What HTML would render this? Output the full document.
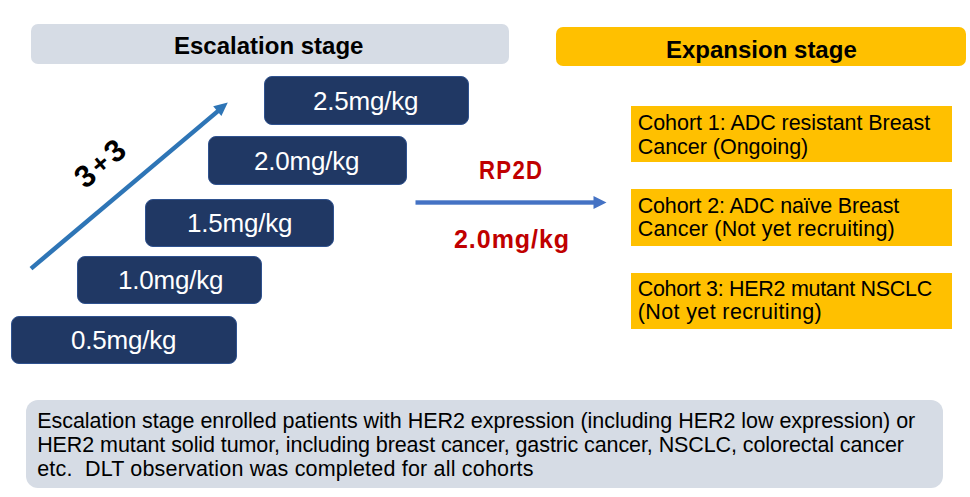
<!DOCTYPE html>
<html>
<head>
<meta charset="utf-8">
<style>
html,body{margin:0;padding:0;background:#fff;}
body{width:970px;height:497px;position:relative;overflow:hidden;font-family:"Liberation Sans",sans-serif;}
.a{position:absolute;box-sizing:border-box;}
.t{position:absolute;white-space:pre;line-height:1;}
.hdr{background:#D6DCE5;border-radius:7px;}
.org{background:#FFC000;}
.blue{background:#203864;border:1px solid #2F528F;border-radius:8px;}
.lbl{color:#fff;font-size:26px;letter-spacing:-0.2px;}
.coh{font-size:21.5px;color:#000;}
.note{font-size:21.5px;color:#000;}
.b{font-weight:bold;}
.red{color:#C00000;font-weight:bold;font-size:25px;}
</style>
</head>
<body>
<!-- headers -->
<div class="a hdr" style="left:31px;top:24px;width:478px;height:40px;"></div>
<div class="t b" style="left:174px;top:34px;font-size:24px;">Escalation stage</div>
<div class="a org" style="left:556px;top:27px;width:410px;height:39px;border-radius:7px;"></div>
<div class="t b" style="left:666px;top:38px;font-size:24px;">Expansion stage</div>

<!-- dose boxes -->
<div class="a blue" style="left:264px;top:76px;width:205px;height:49px;"></div>
<div class="t lbl" style="left:313px;top:88px;">2.5mg/kg</div>
<div class="a blue" style="left:208px;top:136px;width:199px;height:49px;"></div>
<div class="t lbl" style="left:254px;top:148px;">2.0mg/kg</div>
<div class="a blue" style="left:145px;top:199px;width:189px;height:48px;"></div>
<div class="t lbl" style="left:187px;top:210px;">1.5mg/kg</div>
<div class="a blue" style="left:77px;top:256px;width:185px;height:48px;"></div>
<div class="t lbl" style="left:118px;top:267px;">1.0mg/kg</div>
<div class="a blue" style="left:11px;top:316px;width:226px;height:48px;"></div>
<div class="t lbl" style="left:71px;top:327px;">0.5mg/kg</div>

<!-- arrows -->
<svg class="a" style="left:0;top:0;" width="970" height="497" viewBox="0 0 970 497">
  <line x1="31" y1="268.6" x2="220" y2="109.4" stroke="#2E75B6" stroke-width="4.5"/>
  <polygon points="227.8,102.6 213.2,106.3 221.4,116" fill="#2E75B6"/>
  <rect x="415.5" y="200.3" width="180" height="4.4" fill="#4472C4"/>
  <polygon points="593.5,196 606.5,202.5 593.5,209" fill="#4472C4"/>
</svg>

<div class="t b" style="left:50px;top:147.8px;width:100px;height:31px;text-align:center;font-size:31px;transform:rotate(-40deg);transform-origin:50% 50%;">3<span style="font-size:27px;margin:0 3px;vertical-align:1px;">+</span>3</div>

<div class="t red" style="left:479.4px;top:158px;letter-spacing:1.5px;transform:scaleX(0.886);transform-origin:0 0;">RP2D</div>
<div class="t red" style="left:454px;top:226.5px;letter-spacing:0.96px;">2.0mg/kg</div>

<!-- cohorts -->
<div class="a org" style="left:631px;top:106px;width:321px;height:56px;"></div>
<div class="t coh" style="left:637.7px;top:112.5px;letter-spacing:-0.05px;">Cohort 1: ADC resistant Breast</div>
<div class="t coh" style="left:637.7px;top:136.5px;letter-spacing:-0.02px;">Cancer (Ongoing)</div>
<div class="a org" style="left:631px;top:189px;width:321px;height:57px;"></div>
<div class="t coh" style="left:637.7px;top:195.7px;letter-spacing:-0.15px;">Cohort 2: ADC naïve Breast</div>
<div class="t coh" style="left:637.7px;top:219.3px;letter-spacing:0.19px;">Cancer (Not yet recruiting)</div>
<div class="a org" style="left:631px;top:273px;width:321px;height:56px;"></div>
<div class="t coh" style="left:637.7px;top:278.7px;letter-spacing:-0.3px;">Cohort 3: HER2 mutant NSCLC</div>
<div class="t coh" style="left:637.7px;top:302.2px;letter-spacing:0.38px;">(Not yet recruiting)</div>

<!-- note -->
<div class="a hdr" style="left:26px;top:400px;width:917px;height:88px;border-radius:12px;"></div>
<div class="t note" style="left:37.2px;top:410.7px;letter-spacing:-0.03px;">Escalation stage enrolled patients with HER2 expression (including HER2 low expression) or</div>
<div class="t note" style="left:37.2px;top:434.9px;letter-spacing:-0.09px;">HER2 mutant solid tumor, including breast cancer, gastric cancer, NSCLC, colorectal cancer</div>
<div class="t note" style="left:37.2px;top:458.5px;letter-spacing:0.19px;">etc.  DLT observation was completed for all cohorts</div>
</body>
</html>
